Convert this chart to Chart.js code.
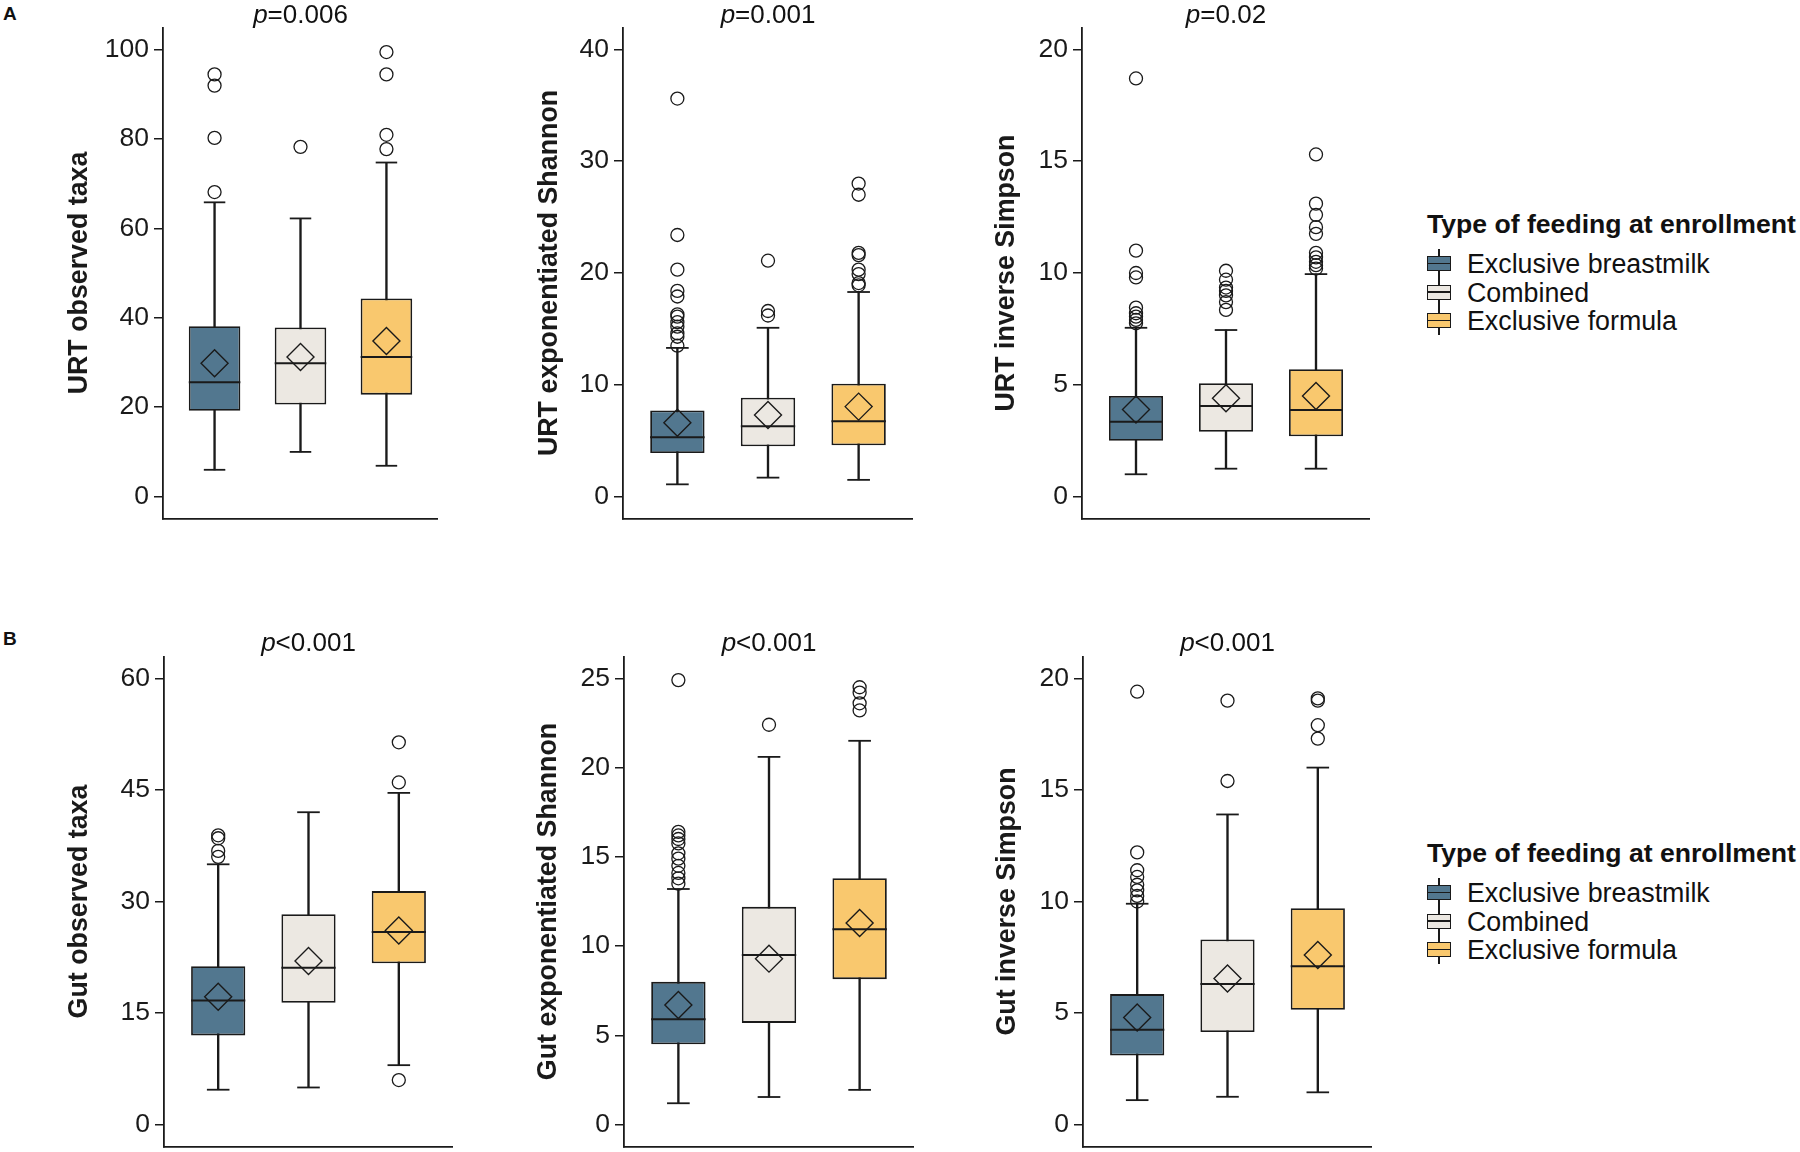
<!DOCTYPE html>
<html>
<head>
<meta charset="utf-8">
<script src="https://cdn.jsdelivr.net/npm/chart.js@4.4.1/dist/chart.umd.min.js"></script>
<style>
  html, body { margin:0; padding:0; background:#fff; }
  body { width:1800px; height:1152px; overflow:hidden; position:relative;
         font-family:"Liberation Sans", Arial, sans-serif; color:#111; }
  canvas { position:absolute; }
  .pv { position:absolute; font-size:26px; line-height:26px; white-space:nowrap; transform:translateX(-50%); }
  .tag { position:absolute; left:3px; font-weight:bold; font-size:19px; line-height:19px; }
  .lt { position:absolute; left:1427px; font-weight:bold; font-size:26.6px; line-height:26px; white-space:nowrap; }
  .li { position:absolute; left:1467px; font-size:26.8px; line-height:26px; white-space:nowrap; }
  .ic { position:absolute; left:1427px; width:24px; height:29px; }
  .ic .w { position:absolute; left:11.25px; top:0; width:1.5px; height:29px; background:#1a1a1a; }
  .ic .b { position:absolute; left:0; top:7px; width:24px; height:15px; box-sizing:border-box; border:1.5px solid #1a1a1a; }
  .ic .m { position:absolute; left:0; top:13.75px; width:24px; height:1.5px; background:#1a1a1a; }
</style>
</head>
<body>
<div class="tag" style="top:4px">A</div>
<div class="tag" style="top:629px">B</div>
<canvas id="a1"></canvas><canvas id="a2"></canvas><canvas id="a3"></canvas>
<canvas id="b1"></canvas><canvas id="b2"></canvas><canvas id="b3"></canvas>
<div id="legendHost"></div>
<script>
// ---------- data ----------
const GROUPS = ['Exclusive breastmilk', 'Combined', 'Exclusive formula'];
const GROUP_COLORS = ['#52778f', '#ece8e2', '#f9c86e'];
const LEGEND_TITLE = 'Type of feeding at enrollment';

// A: URT observed taxa
const urtObsTicks = [0, 20, 40, 60, 80, 100];
const urtObsLow = [6.0, 10.0, 6.9];
const urtObsQ1 = [19.2, 20.6, 22.8];
const urtObsMedian = [25.6, 29.8, 31.2];
const urtObsQ3 = [38.1, 37.8, 44.3];
const urtObsHigh = [65.8, 62.2, 74.7];
const urtObsMean = [29.8, 31.2, 34.8];
const urtObsOutliers = [[94.4, 91.9, 80.2, 68.1], [78.2], [99.4, 94.4, 80.9, 77.7]];

// A: URT exponentiated Shannon
const urtShanTicks = [0, 10, 20, 30, 40];
const urtShanLow = [1.1, 1.7, 1.5];
const urtShanQ1 = [3.9, 4.5, 4.6];
const urtShanMedian = [5.3, 6.3, 6.75];
const urtShanQ3 = [7.7, 8.85, 10.1];
const urtShanHigh = [13.3, 15.1, 18.3];
const urtShanMean = [6.6, 7.3, 8.05];
const urtShanOutliers = [
  [35.6, 23.4, 20.3, 18.4, 17.9, 16.3, 16.1, 15.6, 15.2, 14.6, 14.3, 13.5],
  [21.1, 16.6, 16.2],
  [28.0, 27.0, 21.8, 21.6, 20.3, 19.9, 19.1, 18.9]
];

// A: URT inverse Simpson
const urtSimpTicks = [0, 5, 10, 15, 20];
const urtSimpLow = [1.0, 1.25, 1.25];
const urtSimpQ1 = [2.5, 2.9, 2.7];
const urtSimpMedian = [3.35, 4.05, 3.87];
const urtSimpQ3 = [4.5, 5.07, 5.7];
const urtSimpHigh = [7.55, 7.45, 9.95];
const urtSimpMean = [3.9, 4.4, 4.5];
const urtSimpOutliers = [
  [18.7, 11.0, 10.0, 9.8, 8.45, 8.2, 8.05, 7.9, 7.75],
  [10.1, 9.7, 9.35, 9.2, 9.0, 8.7, 8.35],
  [15.3, 13.1, 12.6, 12.05, 11.75, 10.9, 10.7, 10.5, 10.35, 10.2]
];

// B: Gut observed taxa
const gutObsTicks = [0, 15, 30, 45, 60];
const gutObsLow = [4.7, 5.0, 8.0];
const gutObsQ1 = [12.0, 16.4, 21.7];
const gutObsMedian = [16.7, 21.1, 25.9];
const gutObsQ3 = [21.3, 28.3, 31.4];
const gutObsHigh = [35.0, 42.0, 44.6];
const gutObsMean = [17.2, 22.0, 26.1];
const gutObsOutliers = [[38.9, 38.5, 36.8, 36.0], [], [51.4, 46.0, 6.0]];

// B: Gut exponentiated Shannon
const gutShanTicks = [0, 5, 10, 15, 20, 25];
const gutShanLow = [1.2, 1.55, 1.95];
const gutShanQ1 = [4.5, 5.7, 8.15];
const gutShanMedian = [5.9, 9.5, 10.95];
const gutShanQ3 = [8.0, 12.2, 13.8];
const gutShanHigh = [13.2, 20.6, 21.5];
const gutShanMean = [6.7, 9.3, 11.3];
const gutShanOutliers = [
  [24.9, 16.4, 16.2, 16.0, 15.75, 15.2, 14.9, 14.5, 14.1, 13.8, 13.5],
  [22.4],
  [24.5, 24.2, 23.6, 23.2]
];

// B: Gut inverse Simpson
const gutSimpTicks = [0, 5, 10, 15, 20];
const gutSimpLow = [1.1, 1.25, 1.45];
const gutSimpQ1 = [3.1, 4.15, 5.15];
const gutSimpMedian = [4.25, 6.3, 7.1];
const gutSimpQ3 = [5.85, 8.3, 9.7];
const gutSimpHigh = [9.9, 13.9, 16.0];
const gutSimpMean = [4.8, 6.55, 7.6];
const gutSimpOutliers = [
  [19.4, 12.2, 11.4, 11.1, 10.75, 10.5, 10.25, 10.0],
  [19.0, 15.4],
  [19.1, 19.0, 17.9, 17.3]
];

const P_VALUES = ['=0.006', '=0.001', '=0.02', '<0.001', '<0.001', '<0.001'];

// ---------- styling / layout ----------
const INK = '#1a1a1a';
const FONT = '"Liberation Sans", Arial, sans-serif';
const TITLE_SIZE = 26.8;
const ROW_A = { top: 27, bottom: 519, pTop: 1 };
const ROW_B = { top: 656, bottom: 1147, pTop: 629 };

const PANELS = [
  { id:'a1', title:'URT observed taxa', min:-5, max:105, ticks:urtObsTicks, low:urtObsLow, q1:urtObsQ1, med:urtObsMedian, q3:urtObsQ3, high:urtObsHigh, mean:urtObsMean, out:urtObsOutliers, p:P_VALUES[0], row:ROW_A, titleX:80, axisX:163, right:438 },
  { id:'a2', title:'URT exponentiated Shannon', min:-2, max:42, ticks:urtShanTicks, low:urtShanLow, q1:urtShanQ1, med:urtShanMedian, q3:urtShanQ3, high:urtShanHigh, mean:urtShanMean, out:urtShanOutliers, p:P_VALUES[1], row:ROW_A, titleX:550, axisX:623, right:913 },
  { id:'a3', title:'URT inverse Simpson', min:-1, max:21, ticks:urtSimpTicks, low:urtSimpLow, q1:urtSimpQ1, med:urtSimpMedian, q3:urtSimpQ3, high:urtSimpHigh, mean:urtSimpMean, out:urtSimpOutliers, p:P_VALUES[2], row:ROW_A, titleX:1007, axisX:1082, right:1370 },
  { id:'b1', title:'Gut observed taxa', min:-3, max:63, ticks:gutObsTicks, low:gutObsLow, q1:gutObsQ1, med:gutObsMedian, q3:gutObsQ3, high:gutObsHigh, mean:gutObsMean, out:gutObsOutliers, p:P_VALUES[3], row:ROW_B, titleX:80, axisX:164, right:453 },
  { id:'b2', title:'Gut exponentiated Shannon', min:-1.25, max:26.25, ticks:gutShanTicks, low:gutShanLow, q1:gutShanQ1, med:gutShanMedian, q3:gutShanQ3, high:gutShanHigh, mean:gutShanMean, out:gutShanOutliers, p:P_VALUES[4], row:ROW_B, titleX:549, axisX:624, right:914 },
  { id:'b3', title:'Gut inverse Simpson', min:-1, max:21, ticks:gutSimpTicks, low:gutSimpLow, q1:gutSimpQ1, med:gutSimpMedian, q3:gutSimpQ3, high:gutSimpHigh, mean:gutSimpMean, out:gutSimpOutliers, p:P_VALUES[5], row:ROW_B, titleX:1008, axisX:1083, right:1372 }
];

const X_AXIS_H = 6;

function halfWidthPx(chart, units) {
  const s = chart.scales.x;
  return Math.abs(s.getPixelForValue(1 + units) - s.getPixelForValue(1));
}
function zeroPad(s) { s.paddingTop = 0; s.paddingBottom = 0; s.paddingLeft = 0; s.paddingRight = 0; }

function makePanel(P) {
  const canvas = document.getElementById(P.id);
  const left = Math.round(P.titleX - TITLE_SIZE * 1.2 / 2);
  const width = P.right - left;
  const height = P.row.bottom - P.row.top + X_AXIS_H;
  canvas.width = width; canvas.height = height;
  canvas.style.left = left + 'px'; canvas.style.top = P.row.top + 'px';
  canvas.style.width = width + 'px'; canvas.style.height = height + 'px';
  const yAxisW = P.axisX - left;

  const pos = GROUPS.map((g, i) => i + 1);
  const datasets = [
    { // whiskers
      type:'bar', order:10, grouped:false, barThickness:1.7,
      data: pos.map((x, i) => ({ x, y:[P.low[i], P.high[i]] })),
      backgroundColor: INK, borderColor: INK, borderWidth:0
    },
    { // boxes
      type:'bar', order:8, grouped:false, categoryPercentage:1, barPercentage:0.6,
      data: pos.map((x, i) => ({ x, y:[P.q1[i], P.q3[i]] })),
      backgroundColor: GROUP_COLORS, borderColor: INK, borderWidth:1.8, borderSkipped:false
    },
    { // whisker caps
      type:'scatter', order:6,
      data: pos.flatMap((x, i) => [{ x, y:P.low[i] }, { x, y:P.high[i] }]),
      pointStyle:'line', pointRadius: (c) => halfWidthPx(c.chart, 0.125),
      pointBorderColor: INK, pointBorderWidth:1.8, backgroundColor:INK, borderColor:INK
    },
    { // medians
      type:'scatter', order:5,
      data: pos.map((x, i) => ({ x, y:P.med[i] })),
      pointStyle:'line', pointRadius: (c) => halfWidthPx(c.chart, 0.3),
      pointBorderColor: INK, pointBorderWidth:2, backgroundColor:INK, borderColor:INK
    },
    { // means
      type:'scatter', order:4,
      data: pos.map((x, i) => ({ x, y:P.mean[i] })),
      pointStyle:'rectRot', pointRadius:13.5,
      pointBackgroundColor:'rgba(0,0,0,0)', pointBorderColor: INK, pointBorderWidth:1.4,
      backgroundColor:'rgba(0,0,0,0)', borderColor:INK
    },
    { // outliers
      type:'scatter', order:2,
      data: pos.flatMap((x, i) => P.out[i].map(v => ({ x, y:v }))),
      pointStyle:'circle', pointRadius:6.5,
      pointBackgroundColor:'rgba(0,0,0,0)', pointBorderColor: INK, pointBorderWidth:1.3,
      backgroundColor:'rgba(0,0,0,0)', borderColor:INK
    }
  ];

  const chart = new Chart(canvas, {
    type:'bar',
    data:{ datasets },
    options:{
      responsive:false, animation:false, devicePixelRatio:1, events:[],
      layout:{ padding:0, autoPadding:false },
      plugins:{ legend:{ display:false }, tooltip:{ enabled:false }, colors:{ enabled:false } },
      scales:{
        x:{
          type:'linear', min:0.4, max:3.6, offset:false,
          afterBuildTicks:(s) => { s.ticks = pos.map(v => ({ value:v })); },
          afterFit:(s) => { s.height = X_AXIS_H; zeroPad(s); },
          ticks:{ display:false },
          grid:{ display:false },
          border:{ display:true, color:INK, width:1.8 }
        },
        y:{
          type:'linear', min:P.min, max:P.max,
          afterBuildTicks:(s) => { s.ticks = P.ticks.map(v => ({ value:v })); },
          afterFit:(s) => { s.width = yAxisW; zeroPad(s); },
          ticks:{ color:INK, font:{ family:FONT, size:26.5 }, padding:5 },
          grid:{ display:true, drawOnChartArea:false, drawTicks:true, tickLength:9, color:INK, lineWidth:1.5 },
          border:{ display:true, color:INK, width:1.8 },
          title:{ display:true, text:P.title, color:INK, padding:0,
                  font:{ family:FONT, size:TITLE_SIZE, weight:'bold' } }
        }
      }
    }
  });

  const ca = chart.chartArea;
  const pv = document.createElement('div');
  pv.className = 'pv';
  pv.innerHTML = '<i>p</i>' + P.p.replace('<', '&lt;');
  pv.style.left = (left + (ca.left + ca.right) / 2) + 'px';
  pv.style.top = P.row.pTop + 'px';
  document.body.appendChild(pv);
}

PANELS.forEach(makePanel);

// ---------- legends ----------
function makeLegend(titleBaseline) {
  const host = document.getElementById('legendHost');
  const t = document.createElement('div');
  t.className = 'lt'; t.textContent = LEGEND_TITLE;
  t.style.top = (titleBaseline - 22) + 'px';
  host.appendChild(t);
  GROUPS.forEach((g, i) => {
    const base = titleBaseline + 40 + i * 28.5;
    const ic = document.createElement('div');
    ic.className = 'ic';
    ic.style.top = (base - 9.5 - 14.5) + 'px';
    ic.innerHTML = '<div class="w"></div><div class="b" style="background:' + GROUP_COLORS[i] + '"></div><div class="m"></div>';
    host.appendChild(ic);
    const tx = document.createElement('div');
    tx.className = 'li'; tx.textContent = g;
    tx.style.top = (base - 22) + 'px';
    host.appendChild(tx);
  });
}
makeLegend(233);
makeLegend(233 + (ROW_B.top - ROW_A.top));
</script>
</body>
</html>
